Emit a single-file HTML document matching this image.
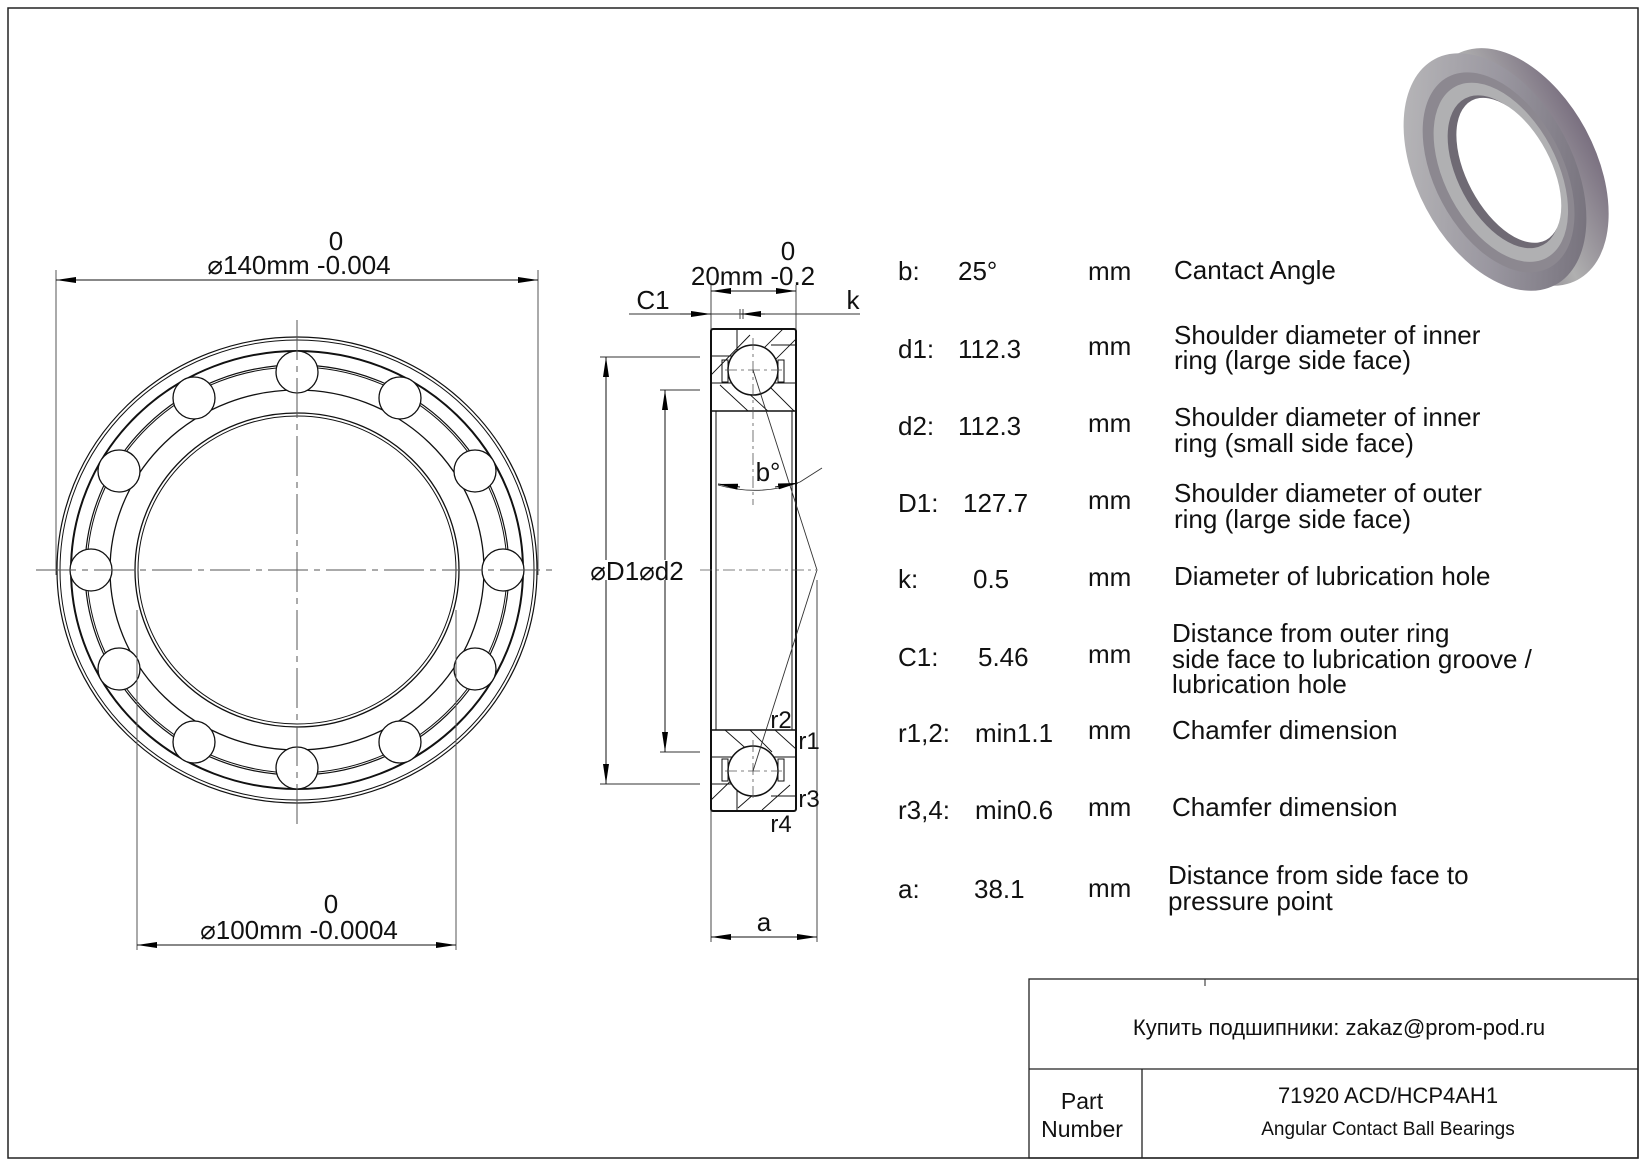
<!DOCTYPE html>
<html><head><meta charset="utf-8"><style>
html,body{margin:0;padding:0;background:#fff}
svg{display:block}
text{font-family:"Liberation Sans","Noto Sans CJK SC",sans-serif;fill:#111}
</style></head><body>
<svg width="1646" height="1165" viewBox="0 0 1646 1165" xmlns="http://www.w3.org/2000/svg">
<defs>
<marker id="a" viewBox="0 0 20 6" refX="20" refY="3" markerWidth="20" markerHeight="6" markerUnits="userSpaceOnUse" orient="auto"><path d="M0,0 L20,3 L0,6 z" fill="#000"/></marker>
<linearGradient id="g1" x1="0" y1="0" x2="1" y2="1"><stop offset="0" stop-color="#c0c0c0"/><stop offset="0.5" stop-color="#9a97a0"/><stop offset="1" stop-color="#6a6570"/></linearGradient>
<linearGradient id="g2" x1="0" y1="0" x2="1" y2="0"><stop offset="0" stop-color="#6a6070"/><stop offset="0.5" stop-color="#b0b0b0"/><stop offset="1" stop-color="#7a7080"/></linearGradient>
<clipPath id="ct"><rect x="711" y="329" width="85" height="82"/></clipPath>
<clipPath id="cb"><rect x="711" y="730" width="85" height="81"/></clipPath>
</defs>
<rect x="8" y="8" width="1630" height="1150" fill="none" stroke="#222" stroke-width="1.5"/>

<!-- LEFT VIEW -->
<g fill="none" stroke="#111">
<ellipse cx="297" cy="570" rx="240" ry="233" stroke-width="1.2"/>
<ellipse cx="297" cy="570" rx="237" ry="230" stroke-width="1"/>
<ellipse cx="297" cy="570" rx="226" ry="219" stroke-width="2"/>
<ellipse cx="297" cy="570" rx="212" ry="205" stroke-width="1.2"/>
<ellipse cx="297" cy="570" rx="210" ry="203" stroke-width="1"/>
<ellipse cx="297" cy="570" rx="187" ry="180" stroke-width="1.3"/>
<ellipse cx="297" cy="570" rx="162" ry="157" stroke-width="1.3"/>
<ellipse cx="297" cy="570" rx="159" ry="154" stroke-width="1"/>
</g>
<g stroke="#111" stroke-width="1.3" fill="#fff">
<circle cx="297" cy="372" r="21"/><circle cx="297" cy="768" r="21"/>
<circle cx="91" cy="570" r="21"/><circle cx="503" cy="570" r="21"/>
<circle cx="194" cy="398" r="21"/><circle cx="400" cy="398" r="21"/>
<circle cx="194" cy="742" r="21"/><circle cx="400" cy="742" r="21"/>
<circle cx="119" cy="471" r="21"/><circle cx="475" cy="471" r="21"/>
<circle cx="119" cy="669" r="21"/><circle cx="475" cy="669" r="21"/>
</g>
<g stroke="#555" stroke-width="1" stroke-dasharray="40,6,6,6" fill="none">
<line x1="297" y1="320" x2="297" y2="830"/>
<line x1="36" y1="570" x2="556" y2="570"/>
</g>
<g stroke="#555" stroke-width="1" fill="none">
<line x1="56" y1="270" x2="56" y2="575"/>
<line x1="538" y1="270" x2="538" y2="575"/>
<line x1="137" y1="610" x2="137" y2="950"/>
<line x1="456" y1="610" x2="456" y2="950"/>
</g>
<g stroke="#111" stroke-width="1">
<line x1="297" y1="280" x2="56" y2="280" marker-end="url(#a)"/>
<line x1="297" y1="280" x2="538" y2="280" marker-end="url(#a)"/>
<line x1="297" y1="945" x2="137" y2="945" marker-end="url(#a)"/>
<line x1="297" y1="945" x2="456" y2="945" marker-end="url(#a)"/>
</g>
<text x="336" y="250" font-size="26" text-anchor="middle">0</text>
<text x="299" y="274" font-size="26" text-anchor="middle">⌀140mm -0.004</text>
<text x="331" y="913" font-size="26" text-anchor="middle">0</text>
<text x="299" y="939" font-size="26" text-anchor="middle">⌀100mm -0.0004</text>

<!-- CROSS SECTION -->
<g fill="none" stroke="#111">
<rect x="711" y="329" width="85" height="482" rx="2" stroke-width="2"/>
<line x1="711" y1="411" x2="796" y2="411" stroke-width="1.5"/>
<line x1="711" y1="730" x2="796" y2="730" stroke-width="1.5"/>
<line x1="716" y1="411" x2="716" y2="730" stroke-width="1"/>
<line x1="792" y1="411" x2="792" y2="730" stroke-width="1"/>
<g clip-path="url(#ct)" stroke-width="0.9">
<line x1="711" y1="375" x2="750" y2="335"/><line x1="740" y1="372" x2="785" y2="327"/><line x1="760" y1="375" x2="800" y2="335"/>
<line x1="720" y1="385" x2="748" y2="411"/><line x1="745" y1="390" x2="770" y2="413"/><line x1="768" y1="385" x2="794" y2="411"/>
</g>
<g clip-path="url(#cb)" stroke-width="0.9">
<line x1="725" y1="730" x2="750" y2="752"/><line x1="750" y1="730" x2="772" y2="752"/><line x1="775" y1="730" x2="796" y2="749"/>
<line x1="711" y1="800" x2="740" y2="772"/><line x1="738" y1="808" x2="770" y2="780"/><line x1="762" y1="810" x2="790" y2="785"/>
</g>
<line x1="711" y1="356" x2="735" y2="356"/><line x1="711" y1="383" x2="735" y2="383"/>
<line x1="771" y1="345" x2="796" y2="345"/><line x1="771" y1="383" x2="796" y2="383"/>
<line x1="711" y1="757" x2="735" y2="757"/><line x1="711" y1="784" x2="735" y2="784"/>
<line x1="771" y1="757" x2="796" y2="757"/><line x1="771" y1="796" x2="796" y2="796"/>
<line x1="737" y1="329" x2="737" y2="350"/><line x1="737" y1="790" x2="737" y2="811"/>
<rect x="722" y="360" width="6" height="22"/><rect x="778" y="360" width="6" height="22"/>
<rect x="722" y="759" width="6" height="22"/><rect x="778" y="759" width="6" height="22"/>
<circle cx="753" cy="370" r="25" fill="#fff" stroke-width="1.5"/>
<circle cx="753" cy="771" r="25" fill="#fff" stroke-width="1.5"/>
</g>
<g stroke="#555" stroke-width="0.8" stroke-dasharray="12,4,3,4" fill="none">
<line x1="753" y1="338" x2="753" y2="505"/><line x1="725" y1="370" x2="782" y2="370"/>
<line x1="753" y1="740" x2="753" y2="800"/><line x1="725" y1="771" x2="782" y2="771"/>
<line x1="700" y1="570" x2="816" y2="570"/>
</g>
<g stroke="#333" stroke-width="0.9" fill="none">
<polyline points="753,370 817,570 753,771"/>
<path d="M718,485 Q760,497 800,482"/>
<line x1="800" y1="482" x2="822" y2="468"/>
<line x1="711" y1="285" x2="711" y2="329"/><line x1="796" y1="285" x2="796" y2="329"/>
<line x1="711" y1="811" x2="711" y2="942"/><line x1="817" y1="580" x2="817" y2="942"/>
<line x1="629" y1="314" x2="860" y2="314"/>
<line x1="740" y1="309" x2="740" y2="319"/><line x1="743" y1="309" x2="743" y2="319"/>
<line x1="600" y1="357" x2="700" y2="357"/><line x1="600" y1="784" x2="700" y2="784"/>
<line x1="660" y1="390" x2="700" y2="390"/><line x1="660" y1="752" x2="700" y2="752"/>
</g>
<g stroke="#111" stroke-width="1">
<line x1="753" y1="291" x2="711" y2="291" marker-end="url(#a)"/>
<line x1="753" y1="291" x2="796" y2="291" marker-end="url(#a)"/>
<line x1="680" y1="314" x2="711" y2="314" marker-end="url(#a)"/>
<line x1="765" y1="314" x2="741" y2="314" marker-end="url(#a)"/>
<line x1="606" y1="560" x2="606" y2="357" marker-end="url(#a)"/>
<line x1="606" y1="580" x2="606" y2="784" marker-end="url(#a)"/>
<line x1="665" y1="560" x2="665" y2="390" marker-end="url(#a)"/>
<line x1="665" y1="580" x2="665" y2="752" marker-end="url(#a)"/>
<line x1="764" y1="937" x2="711" y2="937" marker-end="url(#a)"/>
<line x1="764" y1="937" x2="817" y2="937" marker-end="url(#a)"/>
<line x1="740" y1="487" x2="718" y2="484" marker-end="url(#a)"/>
<line x1="775" y1="487" x2="798" y2="483" marker-end="url(#a)"/>
</g>
<text x="788" y="260" font-size="26" text-anchor="middle">0</text>
<text x="753" y="285" font-size="26" text-anchor="middle">20mm -0.2</text>
<text x="653" y="309" font-size="26" text-anchor="middle">C1</text>
<text x="853" y="309" font-size="26" text-anchor="middle">k</text>
<text x="637" y="580" font-size="26" text-anchor="middle">⌀D1⌀d2</text>
<text x="768" y="481" font-size="26" text-anchor="middle">b°</text>
<text x="781" y="728" font-size="24" text-anchor="middle">r2</text>
<text x="809" y="749" font-size="24" text-anchor="middle">r1</text>
<text x="809" y="807" font-size="24" text-anchor="middle">r3</text>
<text x="781" y="832" font-size="24" text-anchor="middle">r4</text>
<text x="764" y="931" font-size="26" text-anchor="middle">a</text>

<!-- TABLE -->
<g font-size="26">
<text x="898" y="280">b:</text><text x="958" y="280">25°</text><text x="1088" y="280">mm</text><text x="1174" y="279">Cantact Angle</text>
<text x="898" y="358">d1:</text><text x="958" y="358">112.3</text><text x="1088" y="355">mm</text><text x="1174" y="344">Shoulder diameter of inner</text><text x="1174" y="369">ring (large side face)</text>
<text x="898" y="435">d2:</text><text x="958" y="435">112.3</text><text x="1088" y="432">mm</text><text x="1174" y="426">Shoulder diameter of inner</text><text x="1174" y="452">ring (small side face)</text>
<text x="898" y="512">D1:</text><text x="963" y="512">127.7</text><text x="1088" y="509">mm</text><text x="1174" y="502">Shoulder diameter of outer</text><text x="1174" y="528">ring (large side face)</text>
<text x="898" y="588">k:</text><text x="973" y="588">0.5</text><text x="1088" y="586">mm</text><text x="1174" y="585">Diameter of lubrication hole</text>
<text x="898" y="666">C1:</text><text x="978" y="666">5.46</text><text x="1088" y="663">mm</text><text x="1172" y="642">Distance from outer ring</text><text x="1172" y="668">side face to lubrication groove /</text><text x="1172" y="693">lubrication hole</text>
<text x="898" y="742">r1,2:</text><text x="975" y="742">min1.1</text><text x="1088" y="739">mm</text><text x="1172" y="739">Chamfer dimension</text>
<text x="898" y="819">r3,4:</text><text x="975" y="819">min0.6</text><text x="1088" y="816">mm</text><text x="1172" y="816">Chamfer dimension</text>
<text x="898" y="898">a:</text><text x="974" y="898">38.1</text><text x="1088" y="897">mm</text><text x="1168" y="884">Distance from side face to</text><text x="1168" y="910">pressure point</text>
</g>

<!-- TITLE BLOCK -->
<g fill="none" stroke="#222" stroke-width="1.3">
<rect x="1029" y="979" width="609" height="179"/>
<line x1="1029" y1="1069" x2="1638" y2="1069"/>
<line x1="1142" y1="1069" x2="1142" y2="1158"/>
<line x1="1205" y1="979" x2="1205" y2="986" stroke-width="1"/>
</g>
<text x="1339" y="1035" font-size="22" text-anchor="middle" fill="#333">Купить подшипники: zakaz@prom-pod.ru</text>
<text x="1082" y="1109" font-size="23" text-anchor="middle">Part</text>
<text x="1082" y="1137" font-size="23" text-anchor="middle">Number</text>
<text x="1388" y="1103" font-size="22" text-anchor="middle">71920 ACD/HCP4AH1</text>
<text x="1388" y="1135" font-size="19" text-anchor="middle">Angular Contact Ball Bearings</text>

<!-- PHOTO -->
<g transform="translate(1495,172) rotate(-28)">
<ellipse cx="22" cy="6" rx="78" ry="128" fill="url(#g2)"/>
<ellipse cx="0" cy="0" rx="78" ry="128" fill="url(#g1)"/>
<ellipse cx="3" cy="2" rx="64" ry="108" fill="#8c8890"/>
<ellipse cx="5" cy="3" rx="56" ry="97" fill="#b0b0b2"/>
<ellipse cx="8" cy="4" rx="46" ry="83" fill="#6f6a74"/>
<ellipse cx="13" cy="5" rx="42" ry="79" fill="#fff"/>
</g>
</svg>
</body></html>
